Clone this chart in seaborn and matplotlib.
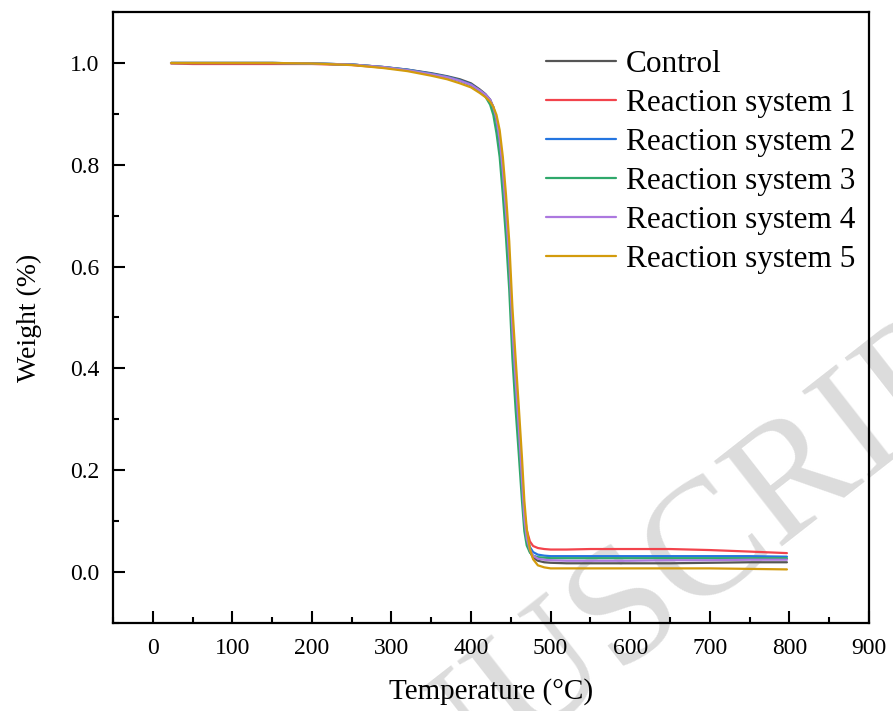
import matplotlib
matplotlib.use("Agg")
import matplotlib.pyplot as plt
import seaborn as sns
import pandas as pd

# Temperature grid (°C) shared by all TGA runs
temperature = [23, 50, 100, 150, 200, 250, 290, 320, 350, 370, 386, 400, 411, 418,
               424, 428, 432, 436, 440, 444, 448, 452, 456, 460, 464, 467, 470, 474,
               478, 484, 492, 500, 520, 550, 600, 650, 700, 750, 797]

control = [1.000, 1.000, 1.000, 1.000, 0.999, 0.997, 0.992, 0.987, 0.980, 0.974, 0.968,
           0.960, 0.948, 0.939, 0.928, 0.913, 0.889, 0.846, 0.781, 0.700, 0.608, 0.470,
           0.368, 0.276, 0.175, 0.100, 0.062, 0.040, 0.028, 0.022, 0.019, 0.018, 0.017,
           0.017, 0.017, 0.017, 0.018, 0.019, 0.019]
system1 = [0.999, 0.998, 0.998, 0.998, 0.998, 0.996, 0.991, 0.986, 0.978, 0.972, 0.965,
           0.957, 0.945, 0.937, 0.926, 0.912, 0.889, 0.848, 0.785, 0.705, 0.615, 0.478,
           0.378, 0.288, 0.190, 0.118, 0.082, 0.060, 0.051, 0.047, 0.045, 0.044, 0.044,
           0.045, 0.045, 0.045, 0.043, 0.040, 0.037]
system2 = [1.000, 1.000, 1.000, 1.000, 0.999, 0.997, 0.992, 0.987, 0.979, 0.973, 0.966,
           0.958, 0.946, 0.938, 0.927, 0.912, 0.888, 0.846, 0.782, 0.702, 0.611, 0.473,
           0.372, 0.281, 0.182, 0.108, 0.072, 0.049, 0.039, 0.034, 0.032, 0.031, 0.031,
           0.031, 0.031, 0.031, 0.031, 0.031, 0.030]
system3 = [1.000, 1.000, 1.000, 1.000, 0.999, 0.997, 0.992, 0.986, 0.978, 0.972, 0.965,
           0.956, 0.944, 0.934, 0.918, 0.898, 0.862, 0.815, 0.740, 0.655, 0.555, 0.420,
           0.320, 0.232, 0.140, 0.080, 0.052, 0.038, 0.032, 0.029, 0.028, 0.027, 0.027,
           0.027, 0.027, 0.027, 0.027, 0.027, 0.027]
system4 = [1.000, 1.000, 1.000, 1.000, 0.999, 0.997, 0.992, 0.986, 0.978, 0.972, 0.965,
           0.957, 0.946, 0.938, 0.928, 0.914, 0.891, 0.850, 0.787, 0.706, 0.616, 0.478,
           0.376, 0.284, 0.183, 0.105, 0.066, 0.043, 0.032, 0.026, 0.024, 0.023, 0.022,
           0.022, 0.022, 0.023, 0.023, 0.024, 0.024]
system5 = [1.000, 1.000, 1.000, 1.000, 0.999, 0.996, 0.990, 0.984, 0.975, 0.968, 0.960,
           0.952, 0.941, 0.933, 0.924, 0.914, 0.898, 0.868, 0.815, 0.740, 0.650, 0.520,
           0.420, 0.325, 0.225, 0.140, 0.085, 0.045, 0.025, 0.013, 0.009, 0.007, 0.007,
           0.007, 0.007, 0.007, 0.007, 0.006, 0.005]

series_names = ["Control", "Reaction system 1", "Reaction system 2",
                "Reaction system 3", "Reaction system 4", "Reaction system 5"]
series_values = [control, system1, system2, system3, system4, system5]
series_colors = ["#555555", "#f2434c", "#2475e0", "#2fa86b", "#ac78df", "#d39b0c"]

x_ticks = [0, 100, 200, 300, 400, 500, 600, 700, 800, 900]
y_ticks = [0.0, 0.2, 0.4, 0.6, 0.8, 1.0]

df = pd.concat(
    [pd.DataFrame({"Temperature": temperature, "Weight": vals, "Sample": name})
     for name, vals in zip(series_names, series_values)],
    ignore_index=True,
)

sns.set_style("ticks")
plt.rcParams["font.family"] = ["Liberation Serif", "DejaVu Serif"]
plt.rcParams["text.color"] = "black"
plt.rcParams["axes.labelcolor"] = "black"

fig = plt.figure(figsize=(8.93, 7.11), dpi=100)
ax = fig.add_axes([0.1265, 0.124, 0.8465, 0.859])
ax.patch.set_alpha(0)

for name, color in zip(series_names, series_colors):
    sub = df[df["Sample"] == name]
    sns.lineplot(data=sub, x="Temperature", y="Weight", color=color, lw=1.6,
                 label=name, ax=ax, sort=False)

ax.set_xlim(-50, 900)
ax.set_ylim(-0.1, 1.1)
ax.set_xticks(x_ticks)
ax.set_yticks(y_ticks)
ax.set_yticklabels([f"{v:.1f}" for v in y_ticks])
ax.xaxis.set_minor_locator(matplotlib.ticker.MultipleLocator(50))
ax.yaxis.set_minor_locator(matplotlib.ticker.MultipleLocator(0.1))
ax.tick_params(which="both", direction="in", top=False, right=False,
               width=1.5, labelsize=17, colors="black")
ax.tick_params(which="major", length=8.6)
ax.tick_params(axis="y", which="major", pad=10)
ax.tick_params(axis="x", which="major", pad=11)
ax.tick_params(which="minor", length=4.3)
for sp in ax.spines.values():
    sp.set_visible(True)
    sp.set_linewidth(1.6)
    sp.set_color("black")

ax.set_xlabel("Temperature (°C)", fontsize=21, labelpad=14, color="black")
ax.set_ylabel("Weight (%)", fontsize=20, labelpad=20, color="black")

leg = ax.legend(loc="upper right", bbox_to_anchor=(1.0105, 0.974), frameon=False,
                fontsize=22.5, handlelength=2.24, handletextpad=0.32,
                labelspacing=0.32, borderaxespad=0.3)
for t in leg.get_texts():
    t.set_color("black")

# Diagonal watermark behind the plot
fig.text(1.19, 0.54, "ACCEPTED MANUSCRIPT", fontsize=120, color="#dcdcdc",
         rotation=38, rotation_mode="anchor", ha="right", va="baseline",
         zorder=-1, family="Liberation Serif")

fig.savefig("out.png", dpi=100)
